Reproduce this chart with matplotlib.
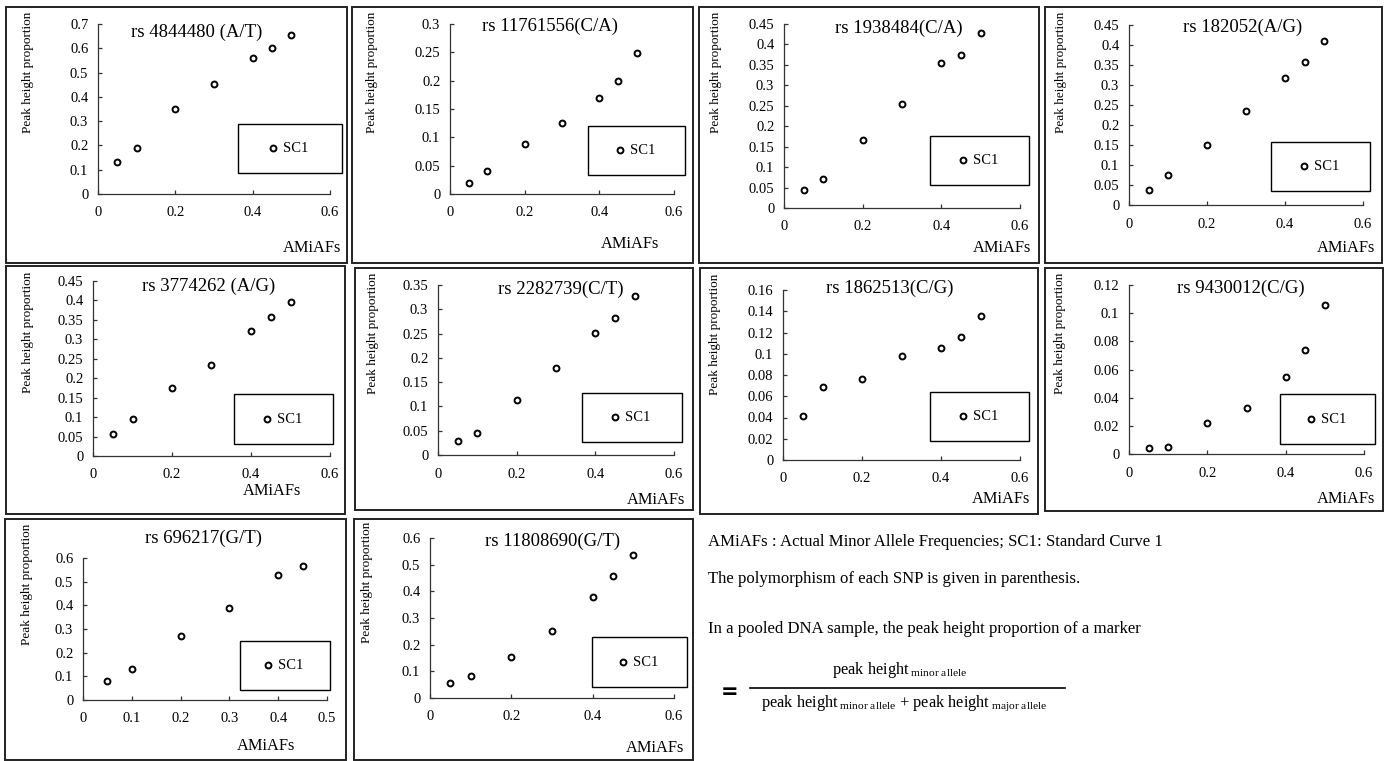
import numpy as np
import matplotlib
matplotlib.use("Agg")
import matplotlib.pyplot as plt
from matplotlib.patches import Rectangle
from matplotlib.lines import Line2D
from matplotlib.ticker import FuncFormatter

plt.rcParams['font.family'] = ['Liberation Serif', 'DejaVu Serif']
plt.rcParams['mathtext.fontset'] = 'custom'
plt.rcParams['mathtext.rm'] = 'Liberation Serif'
plt.rcParams['mathtext.it'] = 'Liberation Serif:italic'

# ---------------- data ----------------
titles = ["rs 4844480 (A/T)", "rs 11761556(C/A)", "rs 1938484(C/A)", "rs 182052(A/G)",
          "rs 3774262 (A/G)", "rs 2282739(C/T)", "rs 1862513(C/G)", "rs 9430012(C/G)",
          "rs 696217(G/T)", "rs 11808690(G/T)"]
amiafs = [0.05, 0.1, 0.2, 0.3, 0.4, 0.45, 0.5]
amiafs_696217 = [0.05, 0.1, 0.2, 0.3, 0.4, 0.45]

y_4844480 = [0.13, 0.19, 0.35, 0.455, 0.562, 0.601, 0.655]
y_11761556 = [0.020, 0.040, 0.088, 0.126, 0.170, 0.199, 0.248]
y_1938484 = [0.045, 0.070, 0.167, 0.254, 0.354, 0.375, 0.427]
y_182052 = [0.038, 0.075, 0.150, 0.235, 0.318, 0.358, 0.410]
y_3774262 = [0.056, 0.096, 0.175, 0.233, 0.322, 0.357, 0.396]
y_2282739 = [0.028, 0.046, 0.113, 0.180, 0.252, 0.283, 0.328]
y_1862513 = [0.041, 0.069, 0.076, 0.098, 0.105, 0.116, 0.136]
y_9430012 = [0.004, 0.005, 0.022, 0.033, 0.055, 0.074, 0.106]
y_696217 = [0.080, 0.130, 0.270, 0.390, 0.527, 0.567]
y_11808690 = [0.055, 0.083, 0.155, 0.250, 0.377, 0.456, 0.537]

xs = [amiafs] * 8 + [amiafs_696217, amiafs]
ys = [y_4844480, y_11761556, y_1938484, y_182052, y_3774262, y_2282739,
      y_1862513, y_9430012, y_696217, y_11808690]
y_max = [0.7, 0.3, 0.45, 0.45, 0.45, 0.35, 0.16, 0.12, 0.6, 0.6]
y_step = [0.1, 0.05, 0.05, 0.05, 0.05, 0.05, 0.02, 0.02, 0.1, 0.1]
x_max = [0.6] * 8 + [0.5, 0.6]
x_step = [0.2] * 8 + [0.1, 0.2]

series_label = "SC1"
x_label = "AMiAFs"
y_label = "Peak height proportion"

# ---------------- layout (pixels) ----------------
W, H = 1388, 761
fig = plt.figure(figsize=(W / 100, H / 100), dpi=100)

def fx(p):
    return p / W

def fy(p):
    return 1 - p / H

panel_boxes = [(6, 7, 347, 263), (352, 7, 693, 263), (699, 7, 1039, 263), (1045, 7, 1382, 263),
               (6, 266, 345, 514), (355, 268, 693, 510), (700, 268, 1038, 514), (1045, 268, 1383, 511),
               (5, 519, 346, 760), (354, 519, 693, 760)]
axes_boxes = [(98, 24, 330, 194), (450, 24, 674, 194), (784, 24, 1020, 208), (1129, 25, 1363, 205),
              (93, 281, 330, 456), (438, 285, 674, 455), (783, 290, 1020, 460), (1129, 285, 1364, 454),
              (83, 558, 327, 700), (430, 538, 674, 698)]
title_pos = [(197, 32), (550, 26), (899, 28), (1243, 27), (209, 286), (561, 289), (890, 288),
             (1241, 288), (203, 538), (553, 541)]
legend_boxes = [(238, 124, 342, 173), (588, 126, 685, 175), (930, 136, 1029, 185), (1271, 142, 1370, 191),
                (234, 394, 333, 444), (582, 393, 682, 442), (930, 392, 1029, 441), (1280, 394, 1375, 444),
                (240, 641, 330, 690), (592, 637, 687, 687)]
xlabel_pos = [(312, 248), (630, 244), (1002, 248), (1346, 248), (272, 491), (656, 500), (1001, 499),
              (1346, 499), (266, 746), (655, 748)]
ylabel_pos = [(28, 72), (372, 72), (716, 72), (1061, 72), (28, 332), (373, 333), (715, 334),
              (1060, 333), (27, 584), (367, 582)]

fmt = FuncFormatter(lambda v, p: ('%g' % round(v, 4)))

for i in range(10):
    # outer panel frame
    l, t, r, b = panel_boxes[i]
    fig.patches.append(Rectangle((fx(l), fy(b)), fx(r - l), (b - t) / H, transform=fig.transFigure,
                                 fill=False, edgecolor='#222222', linewidth=1.4))
    l, t, r, b = axes_boxes[i]
    ax = fig.add_axes([fx(l), fy(b), (r - l) / W, (b - t) / H])
    ax.set_facecolor('none')
    ax.scatter(xs[i], ys[i], s=18, facecolors='white', edgecolors='black', linewidths=1.4,
               label=series_label, zorder=3, clip_on=False)
    ax.set_xlim(0, x_max[i])
    ax.set_ylim(0, y_max[i])
    ax.set_xticks(np.arange(0, x_max[i] + x_step[i] / 2, x_step[i]))
    ax.set_yticks(np.arange(0, y_max[i] + y_step[i] / 2, y_step[i]))
    ax.xaxis.set_major_formatter(fmt)
    ax.yaxis.set_major_formatter(fmt)
    for s in ['top', 'right']:
        ax.spines[s].set_visible(False)
    for s in ['left', 'bottom']:
        ax.spines[s].set_linewidth(0.9)
        ax.spines[s].set_color('#333333')
    ax.tick_params(axis='both', direction='in', length=3, width=0.9, color='#333333',
                   labelsize=10.5)
    ax.tick_params(axis='x', pad=9)
    ax.tick_params(axis='y', pad=7)

    tx, ty = title_pos[i]
    fig.text(fx(tx), fy(ty), titles[i], ha='center', va='center', fontsize=13.5)
    lx, ly = xlabel_pos[i]
    fig.text(fx(lx), fy(ly), x_label, ha='center', va='center', fontsize=11.8)
    yx, yy = ylabel_pos[i]
    fig.text(fx(yx), fy(yy), y_label, ha='center', va='center', rotation=90, fontsize=9.5)

    # legend box
    l, t, r, b = legend_boxes[i]
    fig.patches.append(Rectangle((fx(l), fy(b)), fx(r - l), (b - t) / H, transform=fig.transFigure,
                                 fill=False, edgecolor='black', linewidth=1.0))
    ax.legend(loc='center', bbox_to_anchor=(fx((l + r) / 2 - 2), fy((t + b) / 2)),
              bbox_transform=fig.transFigure, frameon=False, fontsize=10.5,
              handlelength=0.8, handletextpad=0.3, scatterpoints=1, borderpad=0)

# ---------------- explanation text ----------------
fs = 12.1
fig.text(fx(708), fy(542), "AMiAFs : Actual Minor Allele Frequencies; SC1: Standard Curve 1",
         ha='left', va='center', fontsize=fs)
fig.text(fx(708), fy(579), "The polymorphism of each SNP is given in parenthesis.",
         ha='left', va='center', fontsize=fs)
fig.text(fx(708), fy(629), "In a pooled DNA sample, the peak height proportion of a marker",
         ha='left', va='center', fontsize=fs)
fig.text(fx(900), fy(670), r"peak height$_{\mathrm{\ minor\ allele}}$",
         ha='center', va='center', fontsize=11.8)
fig.text(fx(904), fy(703),
         r"peak height$_{\mathrm{\ minor\ allele}}$ + peak height$_{\mathrm{\ major\ allele}}$",
         ha='center', va='center', fontsize=11.8)
fig.add_artist(Line2D([fx(750), fx(1065)], [fy(688), fy(688)], transform=fig.transFigure,
                      color='black', linewidth=1.2))
fig.text(fx(730), fy(692), "=", ha='center', va='center', fontsize=15, fontweight='bold',
         family='DejaVu Sans')

fig.savefig("out.png", dpi=100)
